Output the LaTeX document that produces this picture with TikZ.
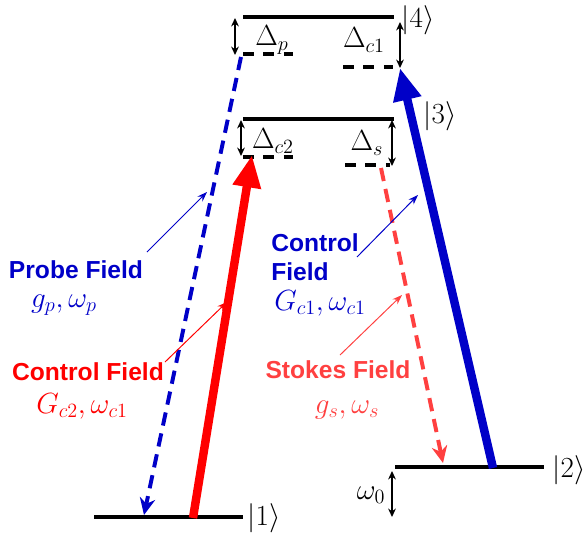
\documentclass[tikz,border=0pt]{standalone}
\usepackage{fontspec}
\setsansfont{Liberation Sans}
\usepackage{tikz}
\usetikzlibrary{arrows.meta}
\definecolor{FieldBlue}{RGB}{0,0,200}
\definecolor{FieldRed}{RGB}{255,0,0}
\definecolor{StokesRed}{RGB}{255,64,64}

\begin{document}
\begin{tikzpicture}[x=0.025cm, y=-0.025cm,
    lvl/.style={line width=2.4pt},
    virt/.style={line width=2.4pt, dash pattern=on 7.5pt off 7pt},
    detune/.style={{Stealth[length=6pt,width=5.5pt]}-{Stealth[length=6pt,width=5.5pt]}, line width=1pt},
    strong/.style={-{Triangle[length=23pt,width=19pt]}, line width=6pt},
    weak/.style={-{Stealth[length=12pt,width=11pt]}, line width=2.8pt, dash pattern=on 9.5pt off 5.7pt},
    note/.style={-{Stealth[length=7pt,width=5pt]}, line width=0.7pt},
    mth/.style={inner sep=0pt, font=\fontsize{20}{24}\selectfont},
    fld/.style={inner sep=0pt, align=left, font=\sffamily\bfseries\fontsize{17.5}{20.6}\selectfont}
  ]
  \useasboundingbox (0,0) rectangle (585,539);

  % bare levels
  \coordinate (e4L) at (243,17);  \coordinate (e4R) at (394,17);
  \coordinate (e3L) at (243,119); \coordinate (e3R) at (394,119);
  \coordinate (e1L) at (94,517);  \coordinate (e1R) at (243,517);
  \coordinate (e2L) at (395,467); \coordinate (e2R) at (544,467);
  \draw[lvl] (e4L) -- (e4R);
  \draw[lvl] (e3L) -- (e3R);
  \draw[lvl] (e1L) -- (e1R);
  \draw[lvl] (e2L) -- (e2R);

  % virtual levels
  \coordinate (vpL)  at (243,54);  \coordinate (vpR)  at (293,54);
  \coordinate (vc1L) at (343,67);  \coordinate (vc1R) at (393,67);
  \coordinate (vc2L) at (243,157); \coordinate (vc2R) at (293,157);
  \coordinate (vsL)  at (345,165); \coordinate (vsR)  at (390,165);
  \draw[virt] (vpL) -- (vpR);
  \draw[virt] (vc1L) -- (vc1R);
  \draw[virt] (vc2L) -- (vc2R);
  \draw[virt] (vsL) -- (vsR);

  % detunings
  \coordinate (dpT)  at (235,18);  \coordinate (dpB)  at (235,55);
  \coordinate (dc1T) at (400,22);  \coordinate (dc1B) at (400,68);
  \coordinate (dc2T) at (241,120); \coordinate (dc2B) at (241,156);
  \coordinate (dsT)  at (392,120); \coordinate (dsB)  at (392,166);
  \coordinate (w0T)  at (392,471); \coordinate (w0B)  at (392,517);
  \draw[detune] (dpT) -- (dpB);
  \draw[detune] (dc1T) -- (dc1B);
  \draw[detune] (dc2T) -- (dc2B);
  \draw[detune] (dsT) -- (dsB);
  \draw[detune] (w0T) -- (w0B);

  \node[mth] (k4)  at (418,20)  {$|4\rangle$};
  \node[mth] (k3)  at (440,116) {$|3\rangle$};
  \node[mth] (k1)  at (264,518) {$|1\rangle$};
  \node[mth] (k2)  at (569,470) {$|2\rangle$};
  \node[mth] (dp)  at (272,40)  {$\Delta_p$};
  \node[mth] (dc1) at (364,40)  {$\Delta_{c1}$};
  \node[mth] (dc2) at (273,141) {$\Delta_{c2}$};
  \node[mth] (ds)  at (367,143) {$\Delta_s$};
  \node[mth] (w0)  at (371,495) {$\omega_0$};

  % fields
  \coordinate (c2a) at (193,518); \coordinate (c2b) at (252,155);
  \coordinate (c1a) at (493,468); \coordinate (c1b) at (400,68);
  \coordinate (pra) at (241,57);  \coordinate (prb) at (144,515);
  \coordinate (sta) at (381,168); \coordinate (stb) at (443,463);
  \draw[weak, draw=FieldBlue] (pra) -- (prb);
  \draw[weak, draw=StokesRed] (sta) -- (stb);
  \draw[strong, draw=FieldRed] (c2a) -- (c2b);
  \draw[strong, draw=FieldBlue] (c1a) -- (c1b);

  \node[fld, text=FieldBlue] (probe) at (76,270) {Probe Field};
  \node[mth, text=FieldBlue] (probeg) at (64,305) {$g_p,\omega_p$};
  \node[fld, text=FieldRed] (ctrl2) at (88,372) {Control Field};
  \node[mth, text=FieldRed] (ctrl2g) at (82,406) {$G_{c2},\omega_{c1}$};
  \node[fld, text=FieldBlue, anchor=west] (ctrl1) at (271,257) {Control\\Field};
  \node[mth, text=FieldBlue] (ctrl1g) at (320,303) {$G_{c1},\omega_{c1}$};
  \node[fld, text=StokesRed] (stokes) at (338,370) {Stokes Field};
  \node[mth, text=StokesRed] (stokesg) at (347,410) {$g_s,\omega_s$};

  % pointers
  \coordinate (pp1) at (147,252); \coordinate (pp2) at (207,192);
  \coordinate (cp1) at (165,362); \coordinate (cp2) at (227,302);
  \coordinate (qp1) at (357,257); \coordinate (qp2) at (418,195);
  \coordinate (sp1) at (340,355); \coordinate (sp2) at (402,295);
  \draw[note, draw=FieldBlue] (pp1) -- (pp2);
  \draw[note, draw=FieldRed] (cp1) -- (cp2);
  \draw[note, draw=FieldBlue] (qp1) -- (qp2);
  \draw[note, draw=StokesRed] (sp1) -- (sp2);
\end{tikzpicture}
\end{document}
